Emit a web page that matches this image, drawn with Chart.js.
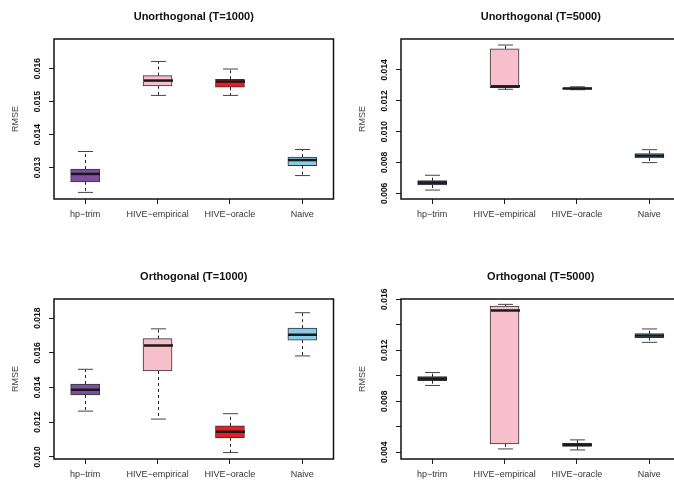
<!DOCTYPE html>
<html>
<head>
<meta charset="utf-8">
<title>RMSE boxplots</title>
<script src="https://cdn.jsdelivr.net/npm/chart.js@4"></script>
<style>
    html, body { margin: 0; padding: 0; background: #fff; }
    body { position: relative; width: 674px; height: 482px; overflow: hidden; }
    canvas { position: absolute; }
</style>
</head>
<body>
<canvas id="p1" width="347" height="240" style="left:0;top:0"></canvas>
<canvas id="p2" width="347" height="240" style="left:347px;top:0"></canvas>
<canvas id="p3" width="347" height="240" style="left:0;top:260px"></canvas>
<canvas id="p4" width="347" height="240" style="left:347px;top:260px"></canvas>
<script>
// 1. Data: one row per method -> [lower whisker, Q1, median, Q3, upper whisker]
const methods = ['hp\u2212trim', 'HIVE\u2212empirical', 'HIVE\u2212oracle', 'Naive'];
const boxColors = ['#7D4F9F', '#F7BECB', '#EC1C24', '#86CDEA'];

const unorthT1000 = [
    [0.01225, 0.01257, 0.01281, 0.01296, 0.01349],
    [0.01519, 0.01548, 0.01564, 0.01579, 0.01622],
    [0.01519, 0.01544, 0.01561, 0.01568, 0.01599],
    [0.01276, 0.01306, 0.01323, 0.01332, 0.01355]
];
const unorthT5000 = [
    [0.00621, 0.00654, 0.00669, 0.00682, 0.00717],
    [0.01275, 0.01286, 0.01294, 0.01538, 0.01562],
    [0.01272, 0.01275, 0.01280, 0.01285, 0.01291],
    [0.00799, 0.00829, 0.00844, 0.00857, 0.00883]
];
const orthT1000 = [
    [0.01264, 0.01357, 0.01387, 0.01420, 0.01505],
    [0.01218, 0.01495, 0.01642, 0.01682, 0.01738],
    [0.01025, 0.01110, 0.01145, 0.01179, 0.01249],
    [0.01582, 0.01673, 0.01704, 0.01742, 0.01831]
];
const orthT5000 = [
    [0.00924, 0.00961, 0.00977, 0.00993, 0.01025],
    [0.00426, 0.00466, 0.01512, 0.01546, 0.01560],
    [0.00418, 0.00445, 0.00458, 0.00471, 0.00497],
    [0.01262, 0.01299, 0.01315, 0.01330, 0.01367]
];

// y ticks and their labels (blank label = tick mark only)
const ticksU1000 = [0.013, 0.014, 0.015, 0.016];
const labelsU1000 = ['0.013', '0.014', '0.015', '0.016'];
const ticksU5000 = [0.006, 0.008, 0.010, 0.012, 0.014];
const labelsU5000 = ['0.006', '0.008', '0.010', '0.012', '0.014'];
const ticksO1000 = [0.010, 0.012, 0.014, 0.016, 0.018];
const labelsO1000 = ['0.010', '0.012', '0.014', '0.016', '0.018'];
const ticksO5000 = [0.004, 0.006, 0.008, 0.010, 0.012, 0.014, 0.016];
const labelsO5000 = ['0.004', '', '0.008', '', '0.012', '', '0.016'];

const FONT = '"Liberation Sans", Arial, Helvetica, sans-serif';

// 2. Whiskers, caps, medians and the frame around the plot region
const boxplotExtras = {
    id: 'boxplotExtras',
    afterDatasetsDraw(chart, args, opts) {
        const { ctx, chartArea: a } = chart;
        const xs = chart.scales.x, ys = chart.scales.y;
        const half = 14.5, cap = 7.5;
        ctx.save();
        opts.stats.forEach((s, i) => {
            const x = Math.round(xs.getPixelForValue(i + 1)) + 0.5;
            const [lo, q1, med, q3, hi] = s.map(v => ys.getPixelForValue(v));
            // dashed whiskers
            ctx.strokeStyle = '#222';
            ctx.lineWidth = 1;
            ctx.setLineDash([3, 3]);
            ctx.beginPath();
            ctx.moveTo(x, q3); ctx.lineTo(x, hi);
            ctx.moveTo(x, q1); ctx.lineTo(x, lo);
            ctx.stroke();
            // staples
            ctx.setLineDash([]);
            ctx.strokeStyle = '#444';
            ctx.beginPath();
            ctx.moveTo(x - cap, hi); ctx.lineTo(x + cap, hi);
            ctx.moveTo(x - cap, lo); ctx.lineTo(x + cap, lo);
            ctx.stroke();
            // median
            ctx.strokeStyle = '#1a1a1a';
            ctx.lineWidth = 2.5;
            ctx.beginPath();
            ctx.moveTo(x - half, med); ctx.lineTo(x + half, med);
            ctx.stroke();
        });
        ctx.strokeStyle = '#111';
        ctx.lineWidth = 1.5;
        ctx.strokeRect(a.left, a.top, a.right - a.left, a.bottom - a.top);
        ctx.restore();
    }
};

// 3. One boxplot panel
function makePanel(id, title, stats, yMin, yMax, tickVals, tickLabels) {
    const ctx = document.getElementById(id).getContext('2d');
    return new Chart(ctx, {
        type: 'bar',
        data: {
            datasets: [{
                data: stats.map((s, i) => ({ x: i + 1, y: [s[1], s[3]] })),
                backgroundColor: boxColors,
                borderColor: '#333',
                borderWidth: 1,
                borderSkipped: false,
                barThickness: 29
            }]
        },
        options: {
            responsive: false,
            animation: false,
            devicePixelRatio: 1,
            layout: { padding: { left: 0, right: 13.5, top: 0, bottom: 11 } },
            plugins: {
                legend: { display: false },
                tooltip: { enabled: false },
                title: {
                    display: true,
                    text: title,
                    fullSize: false,
                    color: '#111',
                    font: { family: FONT, size: 11, weight: 'bold' },
                    padding: { top: 10.5, bottom: 15.3 }
                },
                boxplotExtras: { stats: stats }
            },
            scales: {
                x: {
                    type: 'linear',
                    min: 0.57,
                    max: 4.43,
                    offset: false,
                    afterBuildTicks: s => { s.ticks = methods.map((m, i) => ({ value: i + 1 })); },
                    afterFit: s => { s.height = 30; },
                    grid: { offset: false, drawOnChartArea: false, drawTicks: true, tickLength: 5, color: '#222', lineWidth: 1 },
                    border: { display: false },
                    ticks: {
                        autoSkip: false,
                        maxRotation: 0,
                        padding: 5,
                        color: '#333',
                        font: { family: FONT, size: 9 },
                        callback: v => methods[v - 1]
                    }
                },
                y: {
                    min: yMin,
                    max: yMax,
                    afterBuildTicks: s => { s.ticks = tickVals.map(v => ({ value: v })); },
                    afterFit: s => { s.width = 54; },
                    grid: { drawOnChartArea: false, drawTicks: true, tickLength: 5, color: '#222', lineWidth: 1 },
                    border: { display: false },
                    title: {
                        display: true,
                        text: 'RMSE',
                        color: '#444',
                        font: { family: FONT, size: 9 },
                        padding: { top: 10, bottom: 0 }
                    },
                    ticks: {
                        autoSkip: false,
                        minRotation: 90,
                        maxRotation: 90,
                        crossAlign: 'center',
                        padding: 1,
                        color: '#111',
                        font: { family: FONT, size: 8.5, weight: 'bold' },
                        callback: (v, i) => tickLabels[i]
                    }
                }
            }
        },
        plugins: [boxplotExtras]
    });
}

// 4. Build the four panels
makePanel('p1', 'Unorthogonal (T=1000)', unorthT1000, 0.01205, 0.0169, ticksU1000, labelsU1000);
makePanel('p2', 'Unorthogonal (T=5000)', unorthT5000, 0.00563, 0.01601, ticksU5000, labelsU5000);
makePanel('p3', 'Orthogonal (T=1000)', orthT1000, 0.00988, 0.0191, ticksO1000, labelsO1000);
makePanel('p4', 'Orthogonal (T=5000)', orthT5000, 0.00347, 0.01602, ticksO5000, labelsO5000);
</script>
</body>
</html>
